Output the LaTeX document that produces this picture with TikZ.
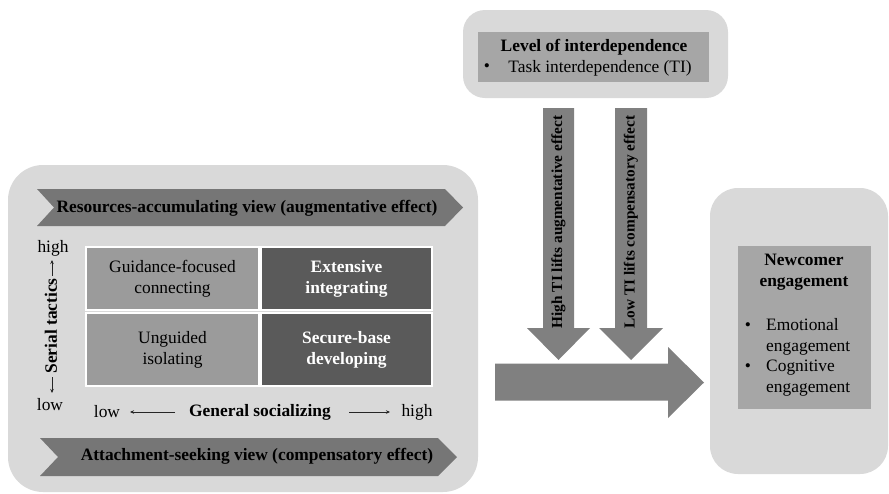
\documentclass[tikz,border=0pt]{standalone}
\usepackage{fontspec}
\setmainfont{Liberation Serif}
\usetikzlibrary{arrows.meta}
\definecolor{boxbg}{RGB}{217,217,217}
\definecolor{chev}{RGB}{118,118,118}
\definecolor{cellL}{RGB}{155,155,155}
\definecolor{cellR}{RGB}{90,90,90}
\definecolor{innerc}{RGB}{166,166,166}
\definecolor{arrowc}{RGB}{128,128,128}
\begin{document}
\begin{tikzpicture}[x=1pt,y=-1pt,
  txt/.style={font=\fontsize{17.4}{21}\selectfont, align=center, inner sep=0pt},
  btxt/.style={txt, font=\fontsize{17.4}{21}\selectfont\bfseries},
  rtxt/.style={inner sep=0pt, font=\fontsize{15.3}{18}\selectfont\bfseries, rotate=90},
  outerbox/.style={fill=boxbg},
  chevron/.style={fill=chev},
  blockarrow/.style={fill=arrowc},
  cellbase/.style={draw=white, line width=1.2pt, inner sep=0pt, align=center, font=\fontsize{17.4}{21}\selectfont},
  cellleft/.style={cellbase, fill=cellL, text=black},
  cellright/.style={cellbase, fill=cellR, text=white, font=\fontsize{17.4}{21}\selectfont\bfseries},
  axisarrow/.style={-{Stealth[length=4pt,width=3.5pt]}, line width=0.6pt, black!85}
]
\useasboundingbox (0,0) rectangle (889,493);
% outer boxes
\fill[outerbox, rounded corners=35pt] (8,165) rectangle (478,492);
\fill[outerbox, rounded corners=22pt] (463,10) rectangle (728,98);
\fill[outerbox, rounded corners=28pt] (710,188) rectangle (888,474);
% chevrons
\fill[chevron] (37,189) -- (445,189) -- (463,207.5) -- (445,226) -- (37,226) -- (54,207.5) -- cycle;
\fill[chevron] (40,438) -- (438,438) -- (457,457) -- (438,476) -- (40,476) -- (58,457) -- cycle;
\node[btxt] (resv) at (247,208) {Resources-accumulating view (augmentative effect)};
\node[btxt] (attv) at (257,456) {Attachment-seeking view (compensatory effect)};
% grid
\node[cellleft, minimum width=173pt, minimum height=63pt] (gfc) at (172.5,278.5) {Guidance-focused\\connecting};
\node[cellright, minimum width=171pt, minimum height=63pt] (ei) at (346.5,278.5) {Extensive\\integrating};
\node[cellleft, minimum width=173pt, minimum height=73pt] (ui) at (172.5,349.5) {Unguided\\isolating};
\node[cellright, minimum width=171pt, minimum height=73pt] (sbd) at (346.5,349.5) {Secure-base\\developing};
% vertical axis
\node[txt] (vhigh) at (53,248) {high};
\node[txt] (vlow) at (50,405) {low};
\node[btxt, rotate=90] (serial) at (51,326) {Serial tactics};
\coordinate (upa) at (52,276);
\coordinate (upb) at (52,260);
\coordinate (dna) at (52,377);
\coordinate (dnb) at (52,393);
\draw[axisarrow] (upa) -- (upb);
\draw[axisarrow] (dna) -- (dnb);
% horizontal axis
\node[txt] (hlow) at (107,412) {low};
\node[btxt] (gens) at (260,412) {General socializing};
\node[txt] (hhigh) at (417,412) {high};
\coordinate (la) at (175,412);
\coordinate (lb) at (130,412);
\coordinate (ra) at (349,412);
\coordinate (rb) at (390,412);
\draw[axisarrow] (la) -- (lb);
\draw[axisarrow] (ra) -- (rb);
% level of interdependence
\fill[innerc] (478,32) rectangle (709,82);
\node[btxt] (loi) at (594,47) {Level of interdependence};
\node[txt] (tib) at (487,68) {\textbullet};
\node[txt] (ti) at (600,68) {Task interdependence (TI)};
% down arrows
\fill[blockarrow] (543,108) -- (574,108) -- (574,328) -- (590,328) -- (558.5,360) -- (527,328) -- (543,328) -- cycle;
\fill[blockarrow] (615,108) -- (647,108) -- (647,328) -- (663,328) -- (631,360) -- (599,328) -- (615,328) -- cycle;
\node[rtxt] (hti) at (558.5,222) {High TI lifts augmentative effect};
\node[rtxt] (lti) at (631,222) {Low TI lifts compensatory effect};
% big right arrow
\fill[blockarrow] (495,363.5) -- (668,363.5) -- (668,347) -- (704,382.5) -- (668,418) -- (668,400.5) -- (495,400.5) -- cycle;
% newcomer engagement
\fill[innerc] (738,246) rectangle (871,409);
\node[btxt] (ne) at (804,272) {Newcomer\\engagement};
\node[txt] (b1) at (748,327) {\textbullet};
\node[txt] (b2) at (748,368) {\textbullet};
\node[txt, align=left, anchor=west] (emo) at (766,337) {Emotional\\engagement};
\node[txt, align=left, anchor=west] (cog) at (766,378) {Cognitive\\engagement};
\end{tikzpicture}
\end{document}
